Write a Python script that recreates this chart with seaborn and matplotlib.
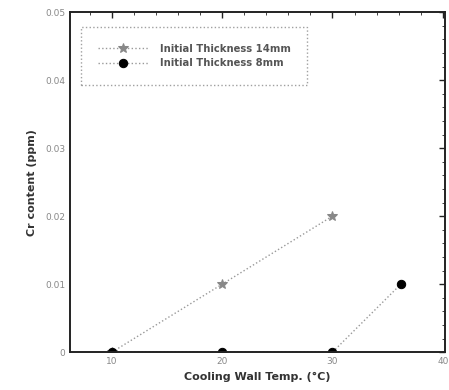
import matplotlib
matplotlib.use("Agg")
import matplotlib.pyplot as plt
import seaborn as sns
import pandas as pd
from matplotlib.ticker import AutoMinorLocator

sns.set_theme(style="white")
plt.rcParams['font.family'] = ['DejaVu Sans']

temps_14 = [10, 20, 30]
cr_14 = [0.0, 0.01, 0.02]
temps_8 = [10, 20, 30, 36.2]
cr_8 = [0.0, 0.0, 0.0, 0.01]
label_14 = "Initial Thickness 14mm"
label_8 = "Initial Thickness 8mm"
xticks = [10, 20, 30, 40]
yticks = [0, 0.01, 0.02, 0.03, 0.04, 0.05]
ytick_labels = ["0", "0.01", "0.02", "0.03", "0.04", "0.05"]

df14 = pd.DataFrame({"T": temps_14, "Cr": cr_14})
df8 = pd.DataFrame({"T": temps_8, "Cr": cr_8})

fig = plt.figure(figsize=(4.49, 3.9), dpi=100)
ax = fig.add_axes([0.156, 0.097, 0.835, 0.872])

sns.lineplot(data=df14, x="T", y="Cr", ax=ax, color="#999999", linestyle=":",
             linewidth=1.0, marker="*", markersize=7, markerfacecolor="#888888",
             markeredgecolor="#888888", label=label_14)
sns.lineplot(data=df8, x="T", y="Cr", ax=ax, color="#999999", linestyle=":",
             linewidth=1.0, marker="o", markersize=6, markerfacecolor="black",
             markeredgecolor="black", label=label_8)

ax.set_xlim(6.2, 40.2)
ax.set_ylim(0, 0.05)
ax.set_xticks(xticks)
ax.set_yticks(yticks)
ax.set_yticklabels(ytick_labels)
ax.xaxis.set_minor_locator(AutoMinorLocator(5))
ax.yaxis.set_minor_locator(AutoMinorLocator(5))
ax.tick_params(which="both", direction="in", top=True, right=True, colors="#222222",
               labelcolor="#888888", labelsize=6.5)
ax.tick_params(which="major", length=4, width=1.0)
ax.tick_params(which="minor", length=2, width=0.6)
for s in ax.spines.values():
    s.set_color("#222222")
    s.set_linewidth(1.4)

ax.set_xlabel("Cooling Wall Temp. (°C)", fontsize=8, fontweight="bold", color="#333333", labelpad=4)
ax.set_ylabel("Cr content (ppm)", fontsize=8, fontweight="bold", color="#333333", labelpad=6)

leg = ax.legend(loc="upper left", bbox_to_anchor=(0.02, 0.965), fontsize=7.2, frameon=True,
                fancybox=False, handlelength=5.0, handletextpad=1.2, borderpad=1.7,
                labelspacing=0.45, borderaxespad=0.3)
leg.get_frame().set_edgecolor("#888888")
leg.get_frame().set_linestyle(":")
leg.get_frame().set_linewidth(1.0)
for t in leg.get_texts():
    t.set_color("#555555")
    t.set_fontweight("bold")

fig.savefig("out.png", dpi=100)
